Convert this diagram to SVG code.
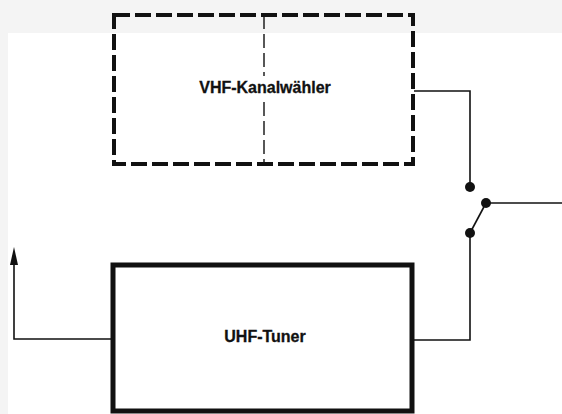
<svg xmlns="http://www.w3.org/2000/svg" width="562" height="414" viewBox="0 0 562 414">
  <style>
    .lbl { font-family: "Liberation Sans", Arial, sans-serif; font-weight: bold; font-size: 16px; fill: #111; stroke: #111; stroke-width: 0.3; text-anchor: middle; }
    .wire { fill: none; stroke: #111; stroke-width: 1.6; }
    .dot { fill: #111; }
  </style>
  <rect x="0" y="0" width="562" height="414" fill="#f4f4f4"/>
  <rect x="8" y="33" width="554" height="381" fill="#ffffff"/>

  <g id="vhf">
    <rect x="114" y="15" width="299" height="149" fill="none" stroke="#111" stroke-width="4" stroke-dasharray="16 5"/>
    <line x1="264" y1="15" x2="264" y2="76" stroke="#111" stroke-width="1.4" stroke-dasharray="14 5"/>
    <line x1="264" y1="102" x2="264" y2="164" stroke="#111" stroke-width="1.4" stroke-dasharray="14 5"/>
    <text class="lbl" x="265" y="93">VHF-Kanalwähler</text>
  </g>

  <g id="uhf">
    <rect x="113" y="265" width="299" height="146" fill="none" stroke="#111" stroke-width="5"/>
    <text class="lbl" x="265" y="342">UHF-Tuner</text>
  </g>

  <g id="connectors">
    <path class="wire" d="M414 91 H470 V187"/>
    <path class="wire" d="M412 340 H470 V233"/>
    <path class="wire" d="M111 339 H14 V262"/>
    <polygon points="14,247 10,265 18,265" fill="#111"/>
    <path class="wire" d="M470 233 L486 203" stroke-width="3"/>
    <path class="wire" d="M486 203 H562"/>
    <circle class="dot" cx="470" cy="187" r="5"/>
    <circle class="dot" cx="486" cy="203" r="5"/>
    <circle class="dot" cx="470" cy="233" r="5"/>
  </g>
</svg>
